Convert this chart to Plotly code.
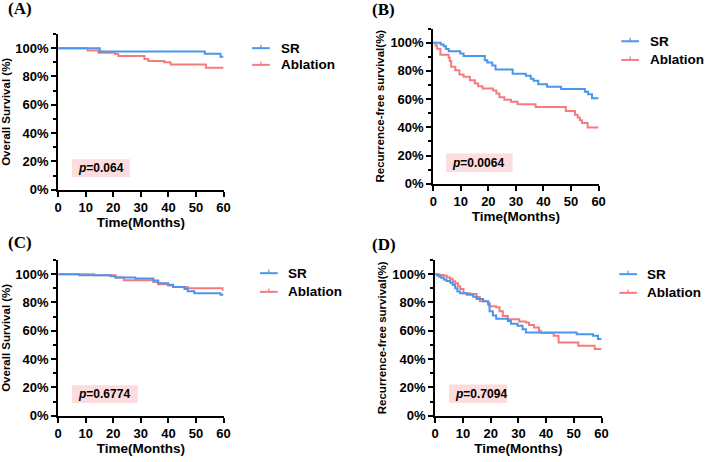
import plotly.graph_objects as go

W, H = 709, 462
BLUE = '#4a96ee'
RED = '#f47c7c'
BOX = '#fcdcdc'
FONT = 'Liberation Sans, Arial, sans-serif'

# ---- data (Kaplan-Meier step curves, % survival) ----
a_sr_t = [0, 15.1, 53.2, 58.9, 60]
a_sr_s = [100, 97.7, 96, 94, 94]
a_ab_t = [0, 10.7, 14.6, 20.6, 21.8, 31.3, 32.7, 38.5, 40.8, 53.6, 60]
a_ab_s = [100, 98.3, 96.8, 95.8, 94.4, 92.4, 91, 90, 88.4, 86.1, 86.1]

b_sr_t = [0, 2.7, 3.8, 4.6, 5.6, 9.8, 11, 18.7, 19.6, 21.4, 22.6, 28.8, 33.6,
          35.4, 36.4, 38.1, 41.3, 46.4, 55, 56.2, 57.6, 60]
b_sr_s = [100, 98.8, 97.4, 95.5, 93.9, 92.3, 90.6, 87.5, 85.9, 83.8, 81, 78, 76.5,
          74.5, 73, 70.6, 68.8, 67.1, 65.3, 63.5, 60.6, 60.6]
b_ab_t = [0, 0.8, 1.4, 2.6, 5.6, 6, 6.5, 8, 9.5, 11, 13.3, 15.1, 16.3, 17.9, 21.7,
          22.9, 24, 25.8, 28.2, 30.6, 37.1, 48.1, 51.4, 52.4, 53.2, 54, 56, 60]
b_ab_s = [100, 98, 95.8, 91.5, 89.4, 87, 82.9, 80.5, 77.5, 75.8, 73.4, 71.1, 69.2, 67.6, 66.2,
          64, 61.3, 59.6, 58.2, 56.3, 54.4, 51.6, 49, 47, 45, 43, 39.9, 39.9]

c_sr_t = [0, 7.7, 19, 20.8, 28, 34.5, 36.3, 39.9, 41.7, 45.8, 47, 49.4, 58.9, 60]
c_sr_s = [100, 99.3, 98.6, 97.7, 97, 95.5, 93.5, 92.5, 91, 89.5, 88, 86.5, 85.5, 85.5]
c_ab_t = [0, 13.1, 20.8, 23.8, 34.5, 36.3, 39.9, 41.7, 47, 59.8, 60]
c_ab_s = [100, 99.3, 97.7, 95.7, 94.5, 92.8, 92, 91, 90, 88.8, 88.8]

d_sr_t = [0, 0.7, 1.5, 2.2, 3.1, 4, 5.4, 6.3, 7.2, 8, 9, 11.4, 13.7, 14.9, 17.3, 19.1,
          19.6, 20.8, 22, 26.2, 27.3, 29.7, 31.5, 32.7, 51, 56.9, 58.7, 60]
d_sr_s = [100, 99, 98.2, 97.5, 96.3, 95.1, 94, 92.4, 90, 87.7, 86.5, 85.4, 84, 82.5, 80.8, 78.5,
          73.8, 70.8, 68.5, 66.9, 65, 63.5, 61, 58.8, 57.6, 56.5, 54.2, 54.2]
d_ab_t = [0, 1.5, 3.1, 4.2, 5.4, 6.3, 7.2, 8.2, 9, 10.2, 12.6, 14.9, 16.1, 19.1, 19.6,
          22, 23.2, 24.4, 26.2, 30.3, 32.7, 33.8, 35.6, 37.4, 38, 42.7, 44.5, 51.6, 57.5, 60]
d_ab_s = [100, 99.4, 98.8, 97.6, 96.5, 95, 93.5, 91.5, 89.6, 86.6, 86, 83.8, 80.8, 79.6, 77.3,
          76.6, 73.8, 70.4, 68.1, 66.5, 65.8, 64.1, 62.3, 60, 58.5, 56.5, 51.8, 49.5, 47.2, 47.2]

labels = ['(A)', '(B)', '(C)', '(D)']
y_titles = ['Overall Survival (%)', 'Recurrence-free survival(%)',
            'Overall Survival (%)', 'Recurrence-free survival(%)']
p_values = ['0.064', '0.0064', '0.6774', '0.7094']
series_names = ['SR', 'Ablation']
x_ticks = [0, 10, 20, 30, 40, 50, 60]
y_ticks = [0, 20, 40, 60, 80, 100]
y_ticktext = ['0%', '20%', '40%', '60%', '80%', '100%']

curves = [
    (a_sr_t, a_sr_s, a_ab_t, a_ab_s),
    (b_sr_t, b_sr_s, b_ab_t, b_ab_s),
    (c_sr_t, c_sr_s, c_ab_t, c_ab_s),
    (d_sr_t, d_sr_s, d_ab_t, d_ab_s),
]

# ---- layout geometry in pixels (left, right, bottom, top of each plot area) ----
boxes_px = [(55, 223, 193, 34.6), (436, 604, 187, 29.1),
            (55, 223, 423, 264.6), (438, 607, 423, 264.6)]
label_px = [(2, 9), (372, 10), (2, 247), (372, 249)]
legend_px = [(252, 280, 49, 66), (627, 655, 42, 61),
             (260, 287, 278, 297), (625, 652, 279, 298)]
pbox = [(5, 26, 9, 21.5), (4.7, 28.8, 8.3, 21.4), (5, 28.9, 9, 21.5), (5, 25.9, 9, 22)]


def px(x):
    return x / W


def py(y):
    return 1 - y / H


fig = go.Figure()
layout = dict(width=W, height=H, autosize=False,
              margin=dict(l=0, r=0, t=0, b=0),
              paper_bgcolor='white', plot_bgcolor='white',
              showlegend=False, shapes=[], annotations=[])

for i in range(4):
    n = '' if i == 0 else str(i + 1)
    xa, ya = 'x' + n, 'y' + n
    sr_t, sr_s, ab_t, ab_s = curves[i]
    for t, s, col, name in [(ab_t, ab_s, RED, series_names[1]), (sr_t, sr_s, BLUE, series_names[0])]:
        fig.add_trace(go.Scatter(x=t, y=s, mode='lines', line_shape='hv', name=name,
                                 line=dict(color=col, width=2), xaxis=xa, yaxis=ya,
                                 hoverinfo='skip'))

    l, r, b, t = boxes_px[i]
    tick_font = dict(family=FONT, size=13, color='black', weight='bold')
    layout['xaxis' + n] = dict(
        domain=[px(l), px(r)], anchor=ya, range=[0, 60], tickvals=x_ticks,
        showline=True, linecolor='black', linewidth=2, mirror=False,
        ticks='outside', ticklen=5, tickwidth=2, tickcolor='black',
        showgrid=False, zeroline=False, tickfont=tick_font,
        title=dict(text='Time(Months)', standoff=2,
                   font=dict(family=FONT, size=13.5, color='black', weight='bold')))
    layout['yaxis' + n] = dict(
        domain=[py(b), py(t)], anchor=xa, range=[0, 110],
        tickvals=y_ticks, ticktext=y_ticktext,
        showline=True, linecolor='black', linewidth=2,
        ticks='outside', ticklen=5, tickwidth=2, tickcolor='black',
        minor=dict(tickvals=[10, 30, 50, 70, 90, 110], ticks='outside', ticklen=3,
                   tickwidth=1.5, tickcolor='black'),
        showgrid=False, zeroline=False, tickfont=tick_font,
        title=dict(text=y_titles[i], standoff=3,
                   font=dict(family=FONT, size=11.5, color='black', weight='bold')))

    # p-value box
    x0, x1, y0, y1 = pbox[i]
    layout['shapes'].append(dict(type='rect', xref=xa, yref=ya, x0=x0, x1=x1, y0=y0, y1=y1,
                                 fillcolor=BOX, line=dict(width=0), layer='below'))
    layout['annotations'].append(dict(
        xref=xa, yref=ya, x=x0 + 1.4, y=(y0 + y1) / 2, xanchor='left', yanchor='middle',
        text='<i>p</i>=' + p_values[i], showarrow=False,
        font=dict(family=FONT, size=12, color='black', weight='bold')))

    # panel label
    lx, ly = label_px[i]
    layout['annotations'].append(dict(
        xref='paper', yref='paper', x=px(lx), y=py(ly), xanchor='left', yanchor='middle',
        text=labels[i], showarrow=False,
        font=dict(family='Liberation Serif, Times New Roman, serif', size=17,
                  color='black', weight='bold')))

    # legend drawn by hand (short line + censor tick, like the original)
    lx0, tx, y_sr, y_ab = legend_px[i]
    for yy, col, name in [(y_sr, BLUE, series_names[0]), (y_ab, RED, series_names[1])]:
        layout['shapes'].append(dict(type='line', xref='paper', yref='paper',
                                     x0=px(lx0), x1=px(lx0 + 18), y0=py(yy), y1=py(yy),
                                     line=dict(color=col, width=2)))
        layout['shapes'].append(dict(type='line', xref='paper', yref='paper',
                                     x0=px(lx0 + 9), x1=px(lx0 + 9), y0=py(yy), y1=py(yy - 3.5),
                                     line=dict(color=col, width=1.2)))
        layout['annotations'].append(dict(
            xref='paper', yref='paper', x=px(tx), y=py(yy), xanchor='left', yanchor='middle',
            text=name, showarrow=False, borderpad=0,
            font=dict(family=FONT, size=13.5, color='black', weight='bold')))

fig.update_layout(**layout)
# drop the default page margin so the 709x462 figure sits at the window origin
fig.write_html("out.html", config={'displayModeBar': False},
               post_script="document.body.style.margin = '0';")
